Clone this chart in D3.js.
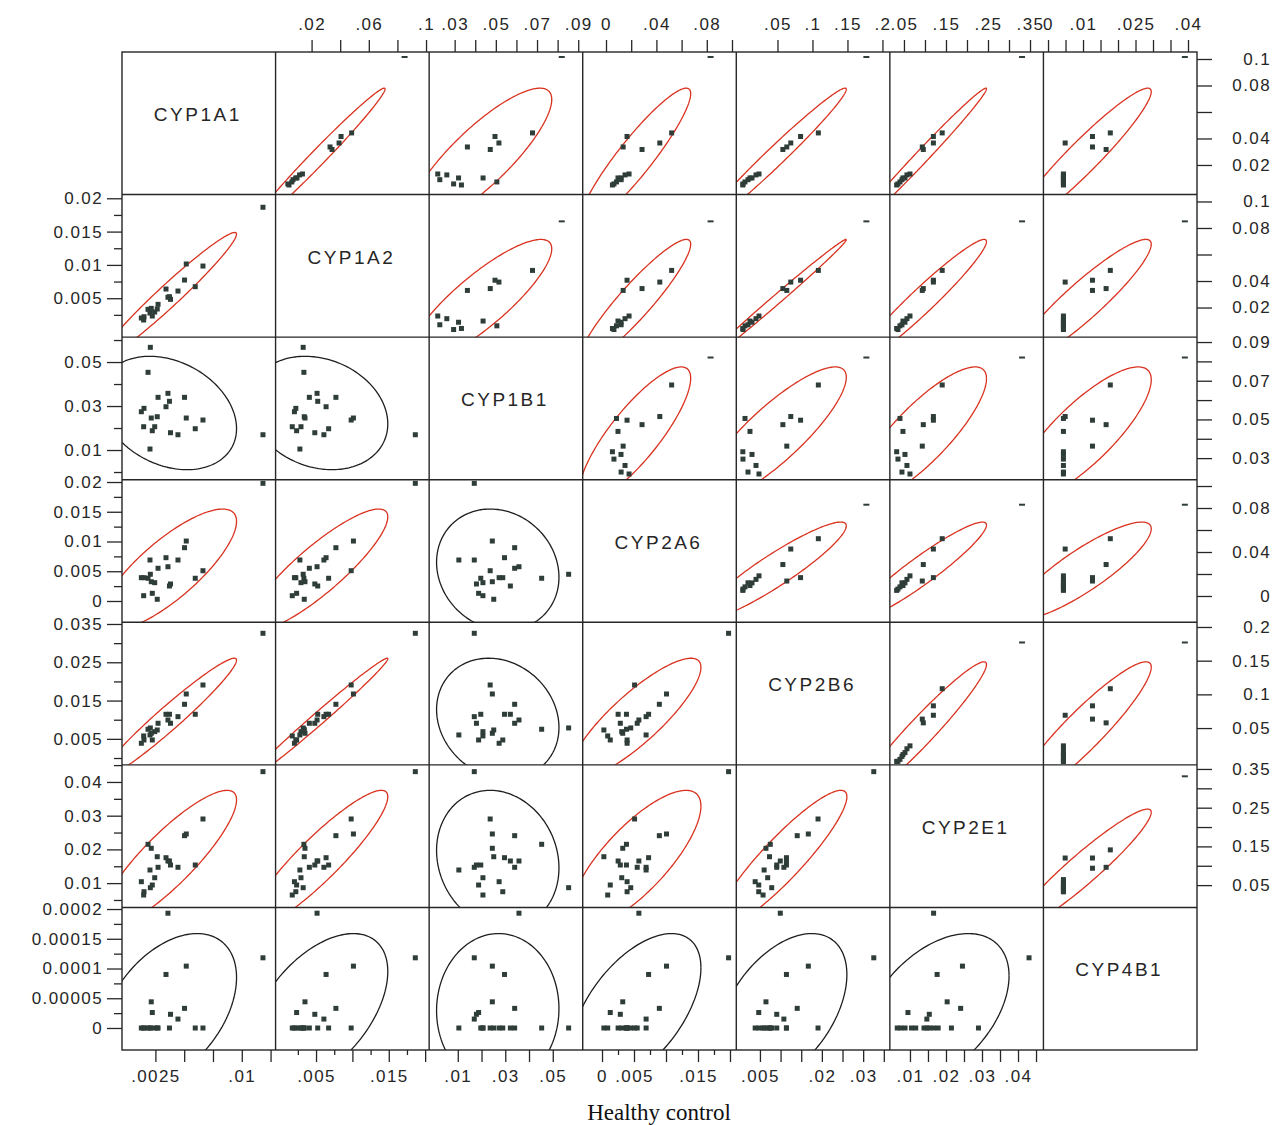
<!DOCTYPE html>
<html><head><meta charset="utf-8">
<script src="https://cdn.jsdelivr.net/npm/d3@7"></script>
<style>body{margin:0;background:#fff}svg{display:block}</style>
</head><body>
<svg id="c" width="1274" height="1125"></svg>
<script>
// ---------------- DATA ----------------
const variables = ["CYP1A1","CYP1A2","CYP1B1","CYP2A6","CYP2B6","CYP2E1","CYP4B1"];

// Healthy control (lower triangle), one value per subject
const hCYP1A1 = [0.01184,0.00663,0.00596,0.00518,0.00503,0.00446,0.00381,0.00372,0.00359,0.00342,0.00273,0.00266,0.00244,0.00223,0.00214,0.00206,0.00186,0.00151,0.00148,0.00128,0.00203];
const hCYP1A2 = [0.01865,0.00983,0.00673,0.01014,0.00773,0.00608,0.00483,0.00523,0.00514,0.00638,0.00408,0.00338,0.00293,0.00233,0.00348,0.00323,0.00333,0.00222,0.00173,0.00203,0.00278];
const hCYP1B1 = [0.01695,0.02364,0.01968,0.02455,0.03395,0.01695,0.01786,0.03214,0.03577,0.02968,0.03395,0.02514,0.02059,0.01877,0.02455,0.05668,0.04532,0.02895,0.02059,0.02741,0.01045];
const hCYP2A6 = [0.01978,0.00509,0.00382,0.01008,0.00896,0.00689,0.00286,0.00252,0.00576,0.00728,0.0055,0.00029,0.00308,0.00129,0.00324,0.00449,0.00382,0.00392,0.00089,0.00392,0.00689];
const hCYP2B6 = [0.03257,0.01907,0.01142,0.01672,0.01403,0.0108,0.00907,0.01142,0.00993,0.01142,0.00907,0.00732,0.00688,0.00471,0.00646,0.00785,0.00751,0.00471,0.00576,0.00385,0.00602];
const hCYP2E1 = [0.04306,0.02902,0.01537,0.02457,0.02407,0.01469,0.01537,0.01656,0.01656,0.01754,0.01469,0.01783,0.0116,0.00944,0.02033,0.00864,0.02151,0.00745,0.00647,0.01042,0.01389];
const hCYP4B1 = [0.000118,0,0,0.000104,0.000033,0.000015,0.000023,0,0.000193,0.00009,0,0,0,0.000026,0.000044,0,0,0,0,0,0];

// Patients (upper triangle)
const pCYP1A1 = [0.1015,0.0442,0.0415,0.0366,0.0336,0.0317,0.0132,0.0125,0.0102,0.0102,0.0089,0.0072,0.0057,0.0049];
const pCYP1A2 = [0.085,0.0480,0.0406,0.0392,0.0329,0.0343,0.0136,0.0116,0.0089,0.0098,0.0070,0.0062,0.0034,0.0042];
const pCYP1B1 = [0.082,0.0678,0.0496,0.0515,0.0362,0.0473,0.0218,0.0262,0.0319,0.0438,0.0228,0.0505,0.0295,0.0333];
const pCYP2A6 = [0.083,0.0521,0.0167,0.0427,0.0136,0.0286,0.0183,0.0151,0.0119,0.0095,0.0120,0.0083,0.0063,0.0051];
const pCYP2B6 = [0.177,0.1084,0.0830,0.0690,0.0633,0.0577,0.0236,0.0193,0.0136,0.0107,0.0079,0.0036,0.0007,0.0005];
const pCYP2E1 = [0.331,0.141,0.120,0.120,0.0936,0.096,0.0643,0.0571,0.0524,0.0476,0.0452,0.0405,0.0357,0.0326];
const pCYP4B1 = [0.0391,0.0178,0.0127,0.0049,0.0127,0.0166,0.0044,0.0044,0.0044,0.0044,0.0044,0.0044,0.0044,0.0044];
const pExcluded = [1,0,0,0,0,0,0,0,0,0,0,0,0,0]; // drawn with dash marker

// density-ellipse coverage per group
const ellipseLevel = {healthy: 0.95, patient: 0.865};
// healthy-control ellipses drawn black (not significant) for these variables
const healthyNS = ["CYP1B1","CYP4B1"];

// axis ranges (value at cell start, value at cell end)
const hxDomain = [[-0.0004,0.012934],[-0.000564,0.02055],[-0.00206,0.06261],[-0.003016,0.020984],[-0.000726,0.036465],[0.004417,0.047056],null];
const hyDomain = [null,[-0.000841,0.020556],[-0.0035,0.061318],[-0.00358,0.020387],[-0.001789,0.035444],[0.002789,0.045074],[-0.000037,0.0002027]];
const pxDomain = [null,[-0.005175,0.10217],[0.01762,0.09218],[-0.01849,0.10341],[-0.008857,0.210571],[0.016429,0.381905],[-0.001314,0.042571]];
const pyDomain = [[-0.00234,0.105283],[-0.00234,0.105208],[0.018837,0.092532],[-0.023909,0.105727],[-0.004599,0.206973],[-0.007623,0.360594],null];

// tick values
const bottomMajor = [[0.0025,0.005,0.0075,0.01,0.0125],[0.005,0.01,0.015,0.02],[0.01,0.02,0.03,0.04,0.05],[0,0.005,0.01,0.015,0.02],[0.005,0.01,0.015,0.02,0.025,0.03,0.035],[0.01,0.015,0.02,0.025,0.03,0.035,0.04,0.045],null];
const bottomMinor = [[],[0.0025,0.0075,0.0125,0.0175],[],[0.0025,0.0075,0.0125,0.0175],[],[],null];
const bottomLabels = [[0.0025,0.01],[0.005,0.015],[0.01,0.03,0.05],[0,0.005,0.015],[0.005,0.02,0.03],[0.01,0.02,0.03,0.04],null];
const leftMajor = [null,[0.005,0.01,0.015,0.02],[0.01,0.03,0.05],[0,0.005,0.01,0.015,0.02],[0.005,0.015,0.025,0.035],[0.01,0.02,0.03,0.04],[0,0.00005,0.0001,0.00015,0.0002]];
const leftMinor = [null,[0.0025,0.0075,0.0125,0.0175],[0,0.02,0.04,0.06],[0.0025,0.0075,0.0125,0.0175],[0,0.01,0.02,0.03],[0.005,0.015,0.025,0.035,0.045],[0.000025,0.000075,0.000125,0.000175]];
const topTicks = [null,[0.02,0.04,0.06,0.08,0.1],[0.03,0.04,0.05,0.06,0.07,0.08,0.09],[0,0.02,0.04,0.06,0.08,0.1],[0.05,0.1,0.15,0.2],[0.05,0.1,0.15,0.2,0.25,0.3,0.35],[0,0.005,0.01,0.015,0.02,0.025,0.03,0.035,0.04]];
const topLabels = [null,[0.02,0.06,0.1],[0.03,0.05,0.07,0.09],[0,0.04,0.08],[0.05,0.1,0.15,0.2],[0.05,0.15,0.25,0.35],[0,0.01,0.025,0.04]];
const rightTicks = [[0.02,0.04,0.06,0.08,0.1],[0.02,0.04,0.06,0.08,0.1],[0.03,0.04,0.05,0.06,0.07,0.08,0.09],[0,0.02,0.04,0.06,0.08,0.1],[0.05,0.1,0.15,0.2],[0.05,0.1,0.15,0.2,0.25,0.3,0.35],null];
const rightLabels = [[0.02,0.04,0.08,0.1],[0.02,0.04,0.08,0.1],[0.03,0.05,0.07,0.09],[0,0.04,0.08],[0.05,0.1,0.15,0.2],[0.05,0.15,0.25,0.35],null];

const xTitle = "Healthy control";

// ---------------- DRAW ----------------
const healthy = [hCYP1A1,hCYP1A2,hCYP1B1,hCYP2A6,hCYP2B6,hCYP2E1,hCYP4B1];
const patient = [pCYP1A1,pCYP1A2,pCYP1B1,pCYP2A6,pCYP2B6,pCYP2E1,pCYP4B1];

const svg = d3.select("#c");
const L=122, T=52, R=1197, B=1050, n=variables.length;
const cw=(R-L)/n, ch=(B-T)/n;
const cx=j=>L+j*cw, cy=i=>T+i*ch;
const RED="#d9321f", BLK="#1e1e1e", PT="#2f3d39", INK="#262626";
const FONT="'Liberation Sans', Arial, sans-serif";

const hX=j=>d3.scaleLinear().domain(hxDomain[j]).range([cx(j),cx(j)+cw]);
const hY=i=>d3.scaleLinear().domain(hyDomain[i]).range([cy(i)+ch,cy(i)]);
const pX=j=>d3.scaleLinear().domain(pxDomain[j]).range([cx(j),cx(j)+cw]);
const pY=i=>d3.scaleLinear().domain(pyDomain[i]).range([cy(i)+ch,cy(i)]);

const defs=svg.append("defs");

function ellipse(xv,yv,level){
  const mx=d3.mean(xv), my=d3.mean(yv), sx=d3.deviation(xv), sy=d3.deviation(yv);
  let r=d3.sum(xv.map((x,k)=>(x-mx)*(yv[k]-my)))/((xv.length-1)*sx*sy);
  r=Math.max(-0.9999,Math.min(0.9999,r));
  const c=Math.sqrt(-2*Math.log(1-level));
  return d3.range(0,361,2).map(a=>{const t=a*Math.PI/180;
    return [mx+c*sx*Math.cos(t), my+c*sy*(r*Math.cos(t)+Math.sqrt(1-r*r)*Math.sin(t))];});
}

for(let i=0;i<n;i++){
  for(let j=0;j<n;j++){
    const id=`clip${i}_${j}`;
    defs.append("clipPath").attr("id",id).append("rect")
      .attr("x",cx(j)).attr("y",cy(i)).attr("width",cw).attr("height",ch);
    if(i===j){
      svg.append("text").attr("x",cx(j)+cw/2-1).attr("y",cy(i)+69)
        .attr("text-anchor","middle").attr("font-family",FONT).attr("font-size",19)
        .attr("letter-spacing","2.5px").attr("fill",INK).text(variables[i]);
      continue;
    }
    const lower=i>j;
    const grp=lower?healthy:patient;
    const X=lower?hX(j):pX(j), Y=lower?hY(i):pY(i);
    const xv=grp[j], yv=grp[i];
    const g=svg.append("g").attr("clip-path",`url(#${id})`);
    const ns=lower&&(healthyNS.includes(variables[i])||healthyNS.includes(variables[j]));
    const lvl=lower?ellipseLevel.healthy:ellipseLevel.patient;
    g.append("path").attr("d",d3.line().x(d=>X(d[0])).y(d=>Y(d[1]))(ellipse(xv,yv,lvl)))
      .attr("fill","none").attr("stroke",ns?BLK:RED).attr("stroke-width",1.3);
    xv.forEach((xval,k)=>{
      const px=X(xval), py=Y(yv[k]);
      if(!lower && pExcluded[k]){
        g.append("rect").attr("x",px-3).attr("y",py-1).attr("width",6).attr("height",2).attr("fill",PT);
      } else {
        g.append("rect").attr("x",px-2.5).attr("y",py-2.5).attr("width",5).attr("height",5).attr("fill",PT);
      }
    });
  }
}

// grid frame
const frame=svg.append("g").attr("stroke",INK).attr("stroke-width",1.4).attr("fill","none");
frame.append("rect").attr("x",L).attr("y",T).attr("width",R-L).attr("height",B-T);
for(let k=1;k<n;k++){
  frame.append("line").attr("x1",cx(k)).attr("x2",cx(k)).attr("y1",T).attr("y2",B);
  frame.append("line").attr("y1",cy(k)).attr("y2",cy(k)).attr("x1",L).attr("x2",R);
}

const fmtLead=v=>String(+v.toPrecision(6));
const fmtNoLead=v=>v===0?"0":String(+v.toPrecision(6)).replace(/^0\./,".");

function styleAxis(sel){
  sel.select(".domain").remove();
  sel.selectAll("line").attr("stroke",INK).attr("stroke-width",1.3);
  sel.selectAll("text").attr("font-family",FONT).attr("font-size",17)
    .attr("letter-spacing","1.4px").attr("fill",INK);
}

// bottom axes (healthy x)
for(let j=0;j<n;j++){
  if(!bottomMajor[j]) continue;
  const X=hX(j), labs=bottomLabels[j];
  const a=svg.append("g").attr("transform",`translate(0,${B})`)
    .call(d3.axisBottom(X).tickValues(bottomMajor[j]).tickSize(12).tickPadding(8)
      .tickFormat(v=>labs.some(l=>Math.abs(l-v)<1e-12)?fmtNoLead(v):""));
  styleAxis(a);
  if(bottomMinor[j].length){
    const m=svg.append("g").attr("transform",`translate(0,${B})`)
      .call(d3.axisBottom(X).tickValues(bottomMinor[j]).tickSize(5).tickFormat(""));
    styleAxis(m);
  }
}
// left axes (healthy y)
for(let i=0;i<n;i++){
  if(!leftMajor[i]) continue;
  const Y=hY(i);
  const a=svg.append("g").attr("transform",`translate(${L},0)`)
    .call(d3.axisLeft(Y).tickValues(leftMajor[i]).tickSize(15).tickPadding(4).tickFormat(fmtLead));
  styleAxis(a);
  const m=svg.append("g").attr("transform",`translate(${L},0)`)
    .call(d3.axisLeft(Y).tickValues(leftMinor[i]).tickSize(8).tickFormat(""));
  styleAxis(m);
}
// top axes (patient x)
for(let j=0;j<n;j++){
  if(!topTicks[j]) continue;
  const X=pX(j), labs=topLabels[j];
  const a=svg.append("g").attr("transform",`translate(0,${T})`)
    .call(d3.axisTop(X).tickValues(topTicks[j]).tickSize(12).tickPadding(10)
      .tickFormat(v=>labs.some(l=>Math.abs(l-v)<1e-12)?fmtNoLead(v):""));
  styleAxis(a);
}
// right axes (patient y)
for(let i=0;i<n;i++){
  if(!rightTicks[i]) continue;
  const Y=pY(i), labs=rightLabels[i];
  const a=svg.append("g").attr("transform",`translate(${R},0)`)
    .call(d3.axisRight(Y).tickValues(rightTicks[i]).tickSize(15)
      .tickFormat(v=>labs.some(l=>Math.abs(l-v)<1e-12)?fmtLead(v):""));
  styleAxis(a);
  a.selectAll("text").attr("text-anchor","end").attr("x",74);
}

svg.append("text").attr("x",659).attr("y",1120).attr("text-anchor","middle")
  .attr("font-family","'Liberation Serif', 'Times New Roman', serif").attr("font-size",23)
  .attr("fill","#111").text(xTitle);
</script>
</body></html>
